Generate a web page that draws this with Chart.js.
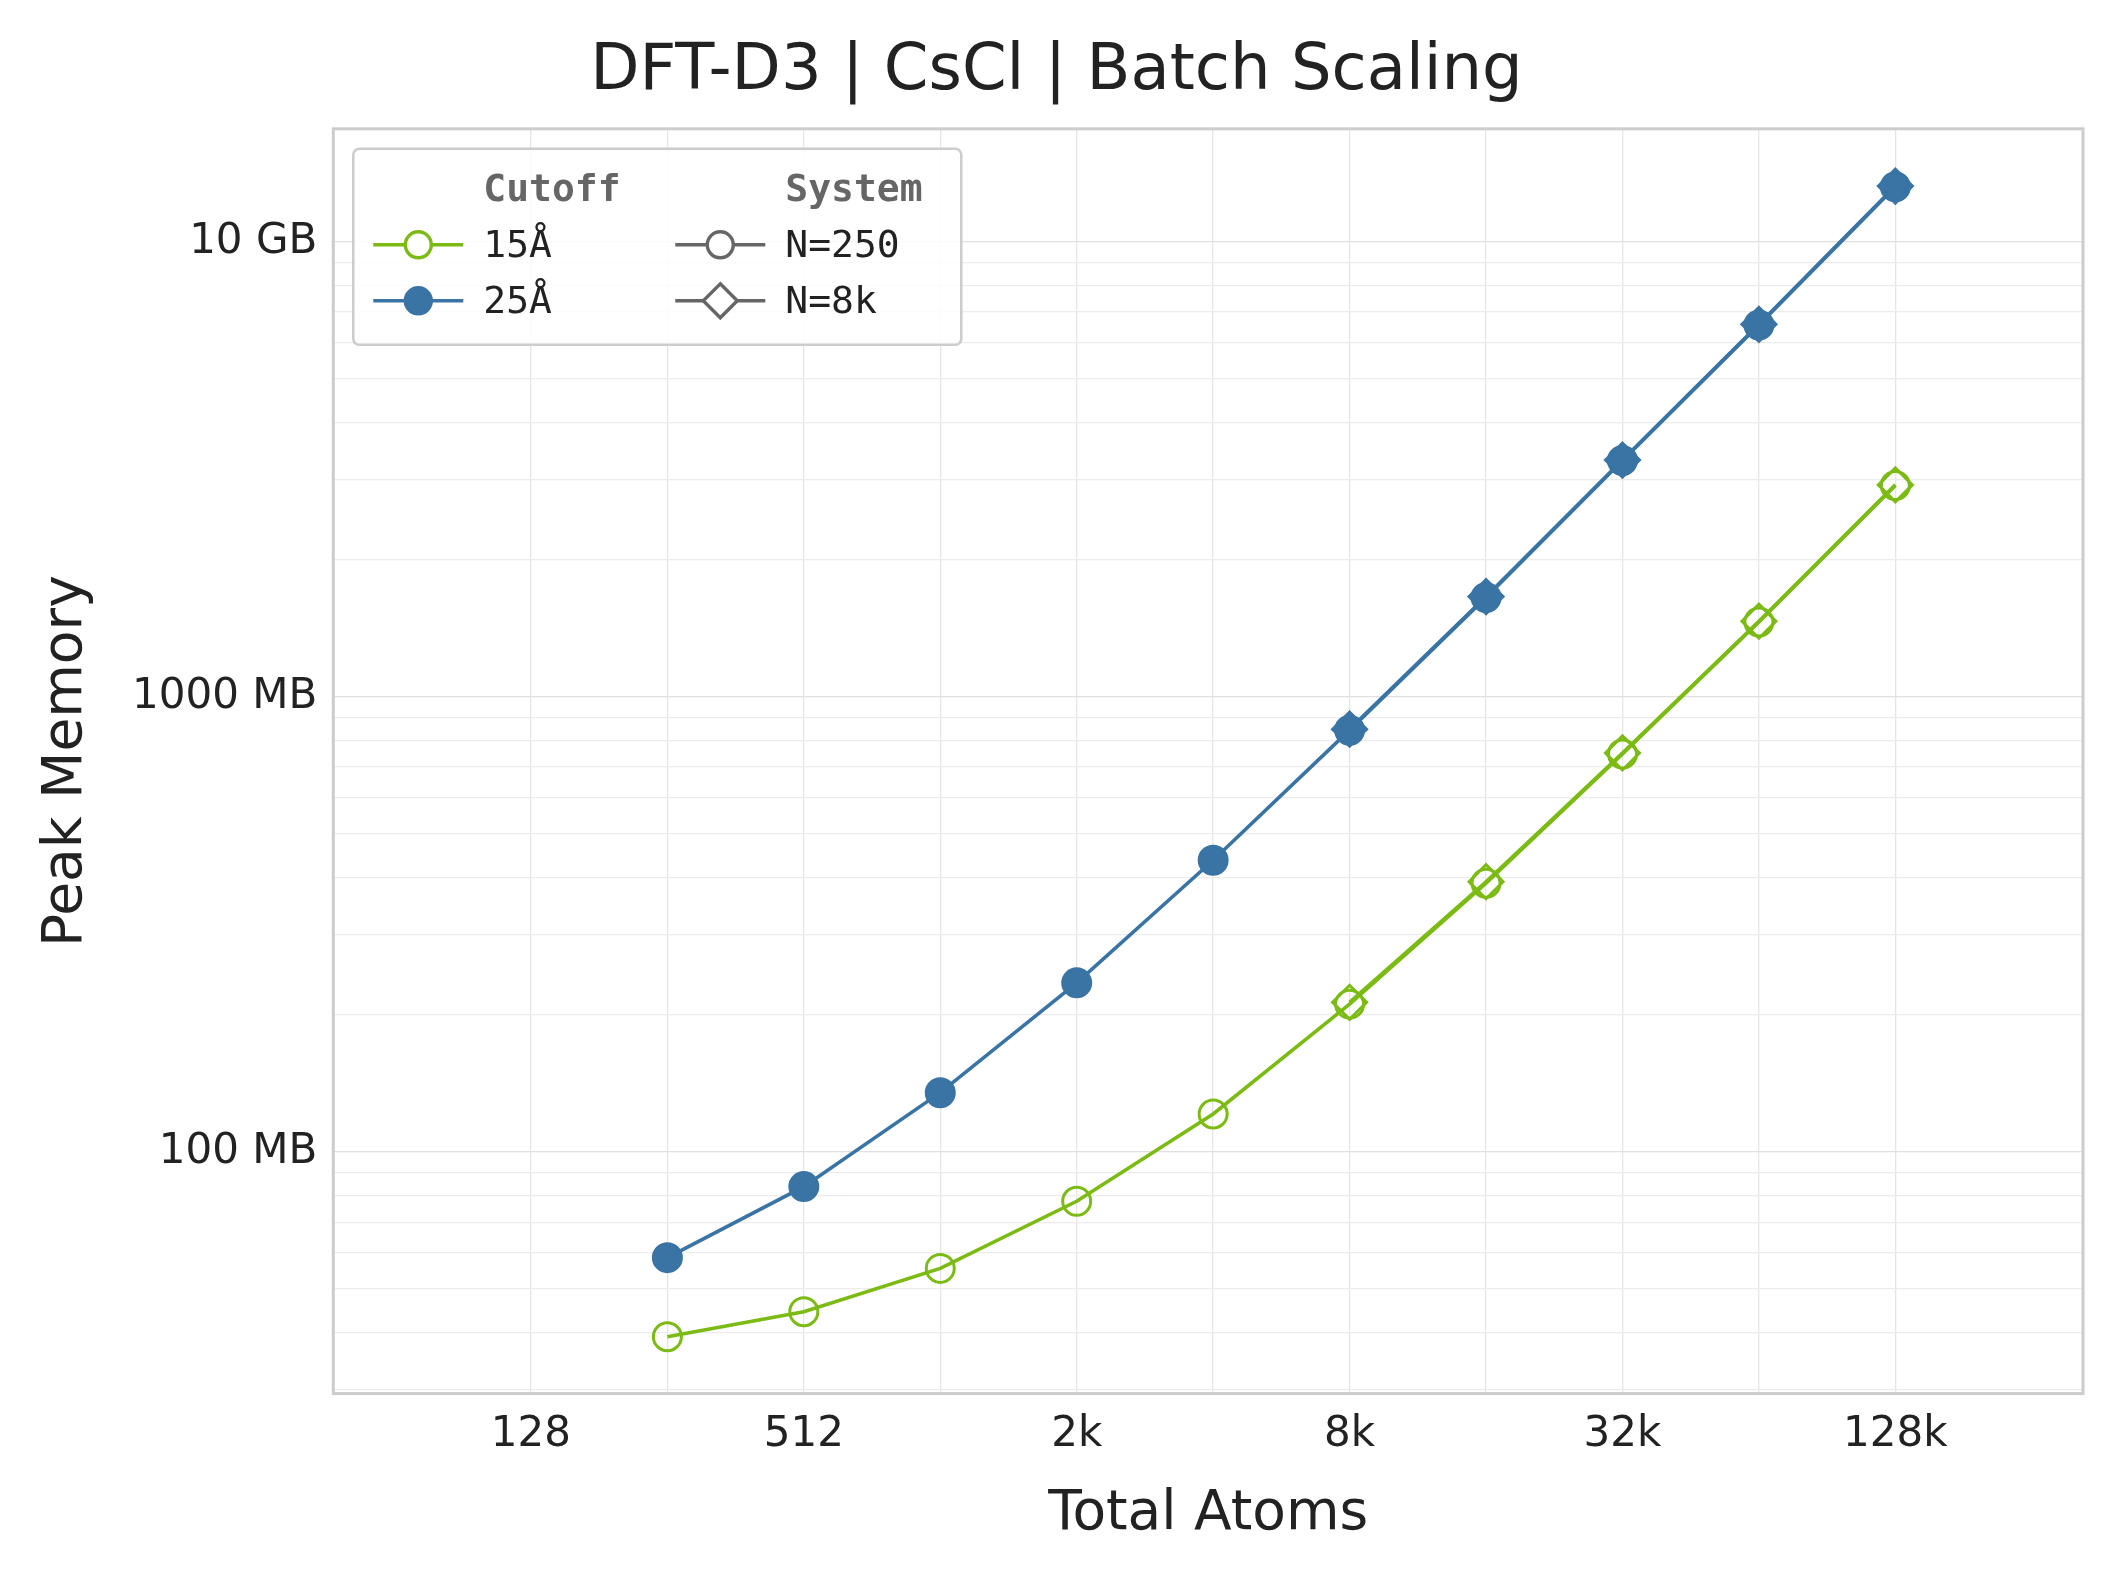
<!DOCTYPE html>
<html>
<head>
<meta charset="utf-8">
<script src="https://cdn.jsdelivr.net/npm/chart.js@4.4.1/dist/chart.umd.min.js"></script>
<style>
  html, body { margin: 0; padding: 0; background: #fff; }
  canvas { display: block; }
</style>
</head>
<body>
<canvas id="chart" width="2118" height="1574"></canvas>
<script>
// atoms (total) and peak memory in MB
var atomsSmall = [256, 512, 1024, 2048, 4096, 8192, 16384, 32768, 65536, 131072];
var atomsLarge = [8192, 16384, 32768, 65536, 131072];
var mem15Small = [39.2, 44.5, 55.4, 77.8, 121, 211, 389, 748, 1459, 2910];
var mem25Small = [58.5, 83.8, 134.8, 235, 437, 844, 1652, 3304, 6560, 13200];
var mem15Large = [213, 392, 752, 1465, 2920];
var mem25Large = [848, 1660, 3310, 6580, 13250];
var xTicks = [128, 256, 512, 1024, 2048, 4096, 8192, 16384, 32768, 65536, 131072];
var xLabels = {128: '128', 512: '512', 2048: '2k', 8192: '8k', 32768: '32k', 131072: '128k'};
var yLabels = {100: '100 MB', 1000: '1000 MB', 10000: '10 GB'};

var green = '#7cba14';
var blue = '#3a74a4';

function pts(xs, ys) {
    return xs.map(function (x, i) { return {x: x, y: ys[i]}; });
}

var frame = {
    id: 'frame',
    afterDraw: function (chart) {
        var a = chart.chartArea, ctx = chart.ctx;
        ctx.save();
        ctx.strokeStyle = '#cccccc';
        ctx.lineWidth = 3;
        ctx.strokeRect(a.left, a.top, a.right - a.left, a.bottom - a.top);

        // legend box
        var lx = a.left + 20, ly = a.top + 20, lw = 608, lh = 196;
        ctx.fillStyle = 'rgba(255,255,255,0.85)';
        ctx.strokeStyle = '#cccccc';
        ctx.lineWidth = 2.5;
        ctx.beginPath();
        ctx.roundRect(lx, ly, lw, lh, 6);
        ctx.fill();
        ctx.stroke();

        ctx.font = 'bold 38px "DejaVu Sans Mono"';
        ctx.fillStyle = '#666';
        ctx.textBaseline = 'middle';
        ctx.fillText('Cutoff', lx + 130, ly + 42);
        ctx.fillText('System', lx + 432, ly + 42);

        var rows = [
            {x: lx + 20, y: ly + 96, c: green, fill: false, shape: 'circle', t: '15Å'},
            {x: lx + 20, y: ly + 152, c: blue, fill: true, shape: 'circle', t: '25Å'},
            {x: lx + 322, y: ly + 96, c: '#666', fill: false, shape: 'circle', t: 'N=250'},
            {x: lx + 322, y: ly + 152, c: '#666', fill: false, shape: 'diamond', t: 'N=8k'}
        ];
        ctx.font = '38px "DejaVu Sans Mono"';
        rows.forEach(function (r) {
            ctx.strokeStyle = r.c;
            ctx.fillStyle = r.c;
            ctx.lineWidth = 3.4;
            ctx.beginPath();
            ctx.moveTo(r.x, r.y);
            ctx.lineTo(r.x + 90, r.y);
            ctx.stroke();
            var cx = r.x + 45;
            ctx.beginPath();
            if (r.shape === 'circle') {
                ctx.arc(cx, r.y, 13, 0, Math.PI * 2);
            } else {
                ctx.moveTo(cx, r.y - 17); ctx.lineTo(cx + 17, r.y);
                ctx.lineTo(cx, r.y + 17); ctx.lineTo(cx - 17, r.y); ctx.closePath();
            }
            if (r.fill) { ctx.fill(); } else { ctx.fillStyle = '#fff'; ctx.fill(); }
            ctx.stroke();
            ctx.fillStyle = '#222';
            ctx.fillText(r.t, r.x + 110, r.y + 2);
        });
        ctx.restore();
    }
};

function series(label, data, color, filled, style) {
    return {
        label: label,
        data: data,
        borderColor: color,
        backgroundColor: filled ? color : '#ffffff',
        pointBorderColor: color,
        pointBackgroundColor: filled ? color : 'rgba(255,255,255,0)',
        borderWidth: 3.6,
        pointStyle: style,
        pointRadius: style === 'rectRot' ? 17 : 14,
        pointBorderWidth: 3,
        tension: 0
    };
}

new Chart(document.getElementById('chart'), {
    type: 'line',
    data: {
        datasets: [
            series('15Å N=8k', pts(atomsLarge, mem15Large), green, false, 'rectRot'),
            series('25Å N=8k', pts(atomsLarge, mem25Large), blue, true, 'rectRot'),
            series('15Å N=250', pts(atomsSmall, mem15Small), green, false, 'circle'),
            series('25Å N=250', pts(atomsSmall, mem25Small), blue, true, 'circle')
        ]
    },
    plugins: [frame],
    options: {
        responsive: false,
        devicePixelRatio: 1,
        animation: false,
        layout: {padding: {left: 30, right: 35, top: 10, bottom: 22}},
        plugins: {
            legend: {display: false},
            tooltip: {enabled: false},
            title: {
                display: true,
                text: 'DFT-D3 | CsCl | Batch Scaling',
                color: '#222',
                font: {family: 'DejaVu Sans', size: 64, weight: 'normal'},
                padding: {top: 24, bottom: 18}
            }
        },
        scales: {
            x: {
                type: 'logarithmic',
                min: 46.9,
                max: 340000,
                afterBuildTicks: function (s) {
                    s.ticks = xTicks.map(function (v) { return {value: v}; });
                },
                ticks: {
                    autoSkip: false,
                    maxRotation: 0,
                    color: '#222',
                    padding: 16,
                    font: {family: 'DejaVu Sans', size: 42},
                    callback: function (v) { return xLabels[v] || ''; }
                },
                grid: {color: '#e6e6e6', lineWidth: 1.3, tickLength: 0},
                border: {display: false},
                title: {
                    display: true, text: 'Total Atoms', color: '#222',
                    font: {family: 'DejaVu Sans', size: 55}, padding: {top: 6}
                }
            },
            y: {
                type: 'logarithmic',
                min: 29.4,
                max: 17700,
                afterBuildTicks: function (s) {
                    var t = [];
                    [10, 100, 1000, 10000].forEach(function (d) {
                        for (var k = 1; k < 10; k++) {
                            var v = d * k;
                            if (v >= 29.4 && v <= 17700) t.push({value: v});
                        }
                    });
                    s.ticks = t;
                },
                ticks: {
                    autoSkip: false,
                    color: '#222',
                    padding: 16,
                    font: {family: 'DejaVu Sans', size: 42},
                    callback: function (v) { return yLabels[v] || ''; }
                },
                grid: {
                    tickLength: 0,
                    color: function (c) { return yLabels[c.tick.value] ? '#e0e0e0' : '#ececec'; },
                    lineWidth: 1.3
                },
                border: {display: false},
                title: {
                    display: true, text: 'Peak Memory', color: '#222',
                    font: {family: 'DejaVu Sans', size: 55}, padding: {bottom: 16}
                }
            }
        }
    }
});
</script>
</body>
</html>
